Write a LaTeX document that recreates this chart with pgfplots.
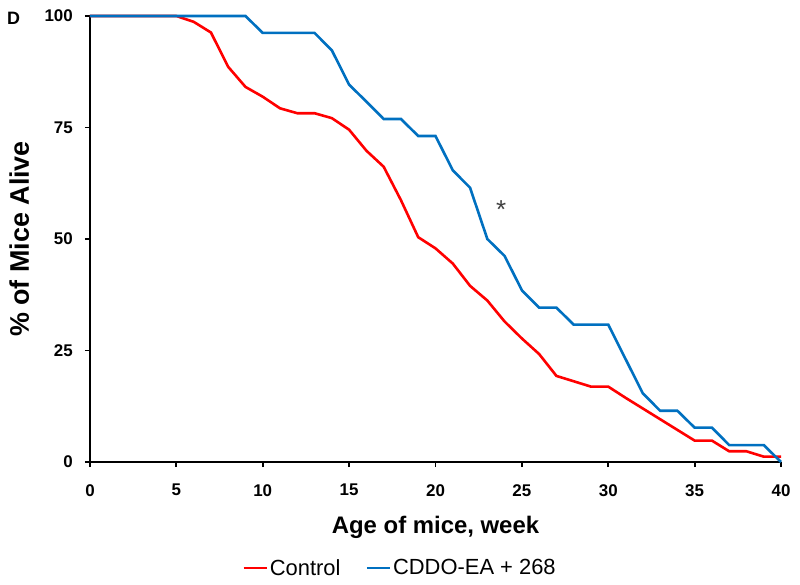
\documentclass[border=0pt]{standalone}
\usepackage{fontspec}
\setmainfont{Liberation Sans}
\usepackage{pgfplots}
\pgfplotsset{compat=1.18}

\definecolor{ctrlred}{RGB}{255,0,0}
\definecolor{cddoblue}{RGB}{0,112,192}

\begin{document}
\begin{tikzpicture}
\begin{axis}[
    scale only axis,
    width=691bp, height=446bp,
    xmin=0, xmax=40, ymin=0, ymax=100,
    clip=false,
    axis lines*=left,
    axis line style={line width=1.8bp, black},
    xtick={0,5,...,40},
    ytick={0,25,50,75,100},
    tick align=outside,
    major tick length=5bp,
    tick style={line width=1.8bp, black},
    /pgf/number format/assume math mode=true,
    ticklabel style={font=\bfseries\fontsize{17}{17}\selectfont},
    xticklabel style={anchor=north, inner sep=0pt, yshift=-17bp},
    yticklabel style={anchor=east, inner sep=0pt, xshift=-12bp},
    xlabel={Age of mice, week},
    ylabel={\% of Mice Alive},
    xlabel style={font=\bfseries\fontsize{24}{24}\selectfont,
        at={(axis description cs:0.5,0)}, anchor=base, yshift=-71bp},
    ylabel style={font=\bfseries\fontsize{27}{27}\selectfont,
        at={(axis description cs:0,0.5)}, anchor=base, yshift=61bp},
    legend style={at={(axis description cs:0.4486,-0.2377)}, anchor=center,
        draw=none, fill=none, legend columns=2,
        font=\fontsize{22}{22}\selectfont,
        /tikz/every even column/.append style={column sep=23bp}},
    legend image code/.code={\draw[#1] (0bp,0bp) -- (23bp,0bp);},
]
% Control
\addplot[ctrlred, line width=2.6bp] coordinates {
    (0,100) (1,100) (2,100) (3,100) (4,100) (5,100) (6,98.7) (7,96.3)
    (8,88.6) (9,84.1) (10,81.9) (11,79.3) (12,78.2) (13,78.2) (14,77.1)
    (15,74.5) (16,69.8) (17,66.2) (18,58.7) (19,50.4) (20,47.9) (21,44.5)
    (22,39.5) (23,36.2) (24,31.5) (25,27.7) (26,24.2) (27,19.3) (28,18.1)
    (29,16.9) (30,16.9) (31,14.4) (32,12.0) (33,9.6) (34,7.2) (35,4.8)
    (36,4.8) (37,2.4) (38,2.4) (39,1.2) (40,1.2)
};
% CDDO-EA + 268
\addplot[cddoblue, line width=2.6bp] coordinates {
    (0,100) (1,100) (2,100) (3,100) (4,100) (5,100) (6,100) (7,100)
    (8,100) (9,100) (10,96.2) (11,96.2) (12,96.2) (13,96.2) (14,92.3)
    (15,84.6) (16,80.8) (17,76.9) (18,76.9) (19,73.1) (20,73.1) (21,65.4)
    (22,61.5) (23,50) (24,46.2) (25,38.5) (26,34.6) (27,34.6) (28,30.8)
    (29,30.8) (30,30.8) (31,23.1) (32,15.4) (33,11.5) (34,11.5) (35,7.7)
    (36,7.7) (37,3.8) (38,3.8) (39,3.8) (40,0)
};
\legend{Control, CDDO-EA + 268}
\node[anchor=base west, inner sep=0pt, font=\bfseries\fontsize{18}{18}\selectfont]
    at ([xshift=-83bp, yshift=-9bp]rel axis cs:0,1) {D};
\node[anchor=base, inner sep=0pt, text=black!75, font=\fontsize{26}{26}\selectfont]
    at (axis cs:23.8,54.5) {*};
\coordinate (sw) at (rel axis cs:0,0);
\coordinate (ne) at (rel axis cs:1,1);
\end{axis}
\pgfresetboundingbox
\path ([shift={(-90bp,-123bp)}]sw) rectangle ([shift={(19bp,16bp)}]ne);
\end{tikzpicture}
\end{document}
